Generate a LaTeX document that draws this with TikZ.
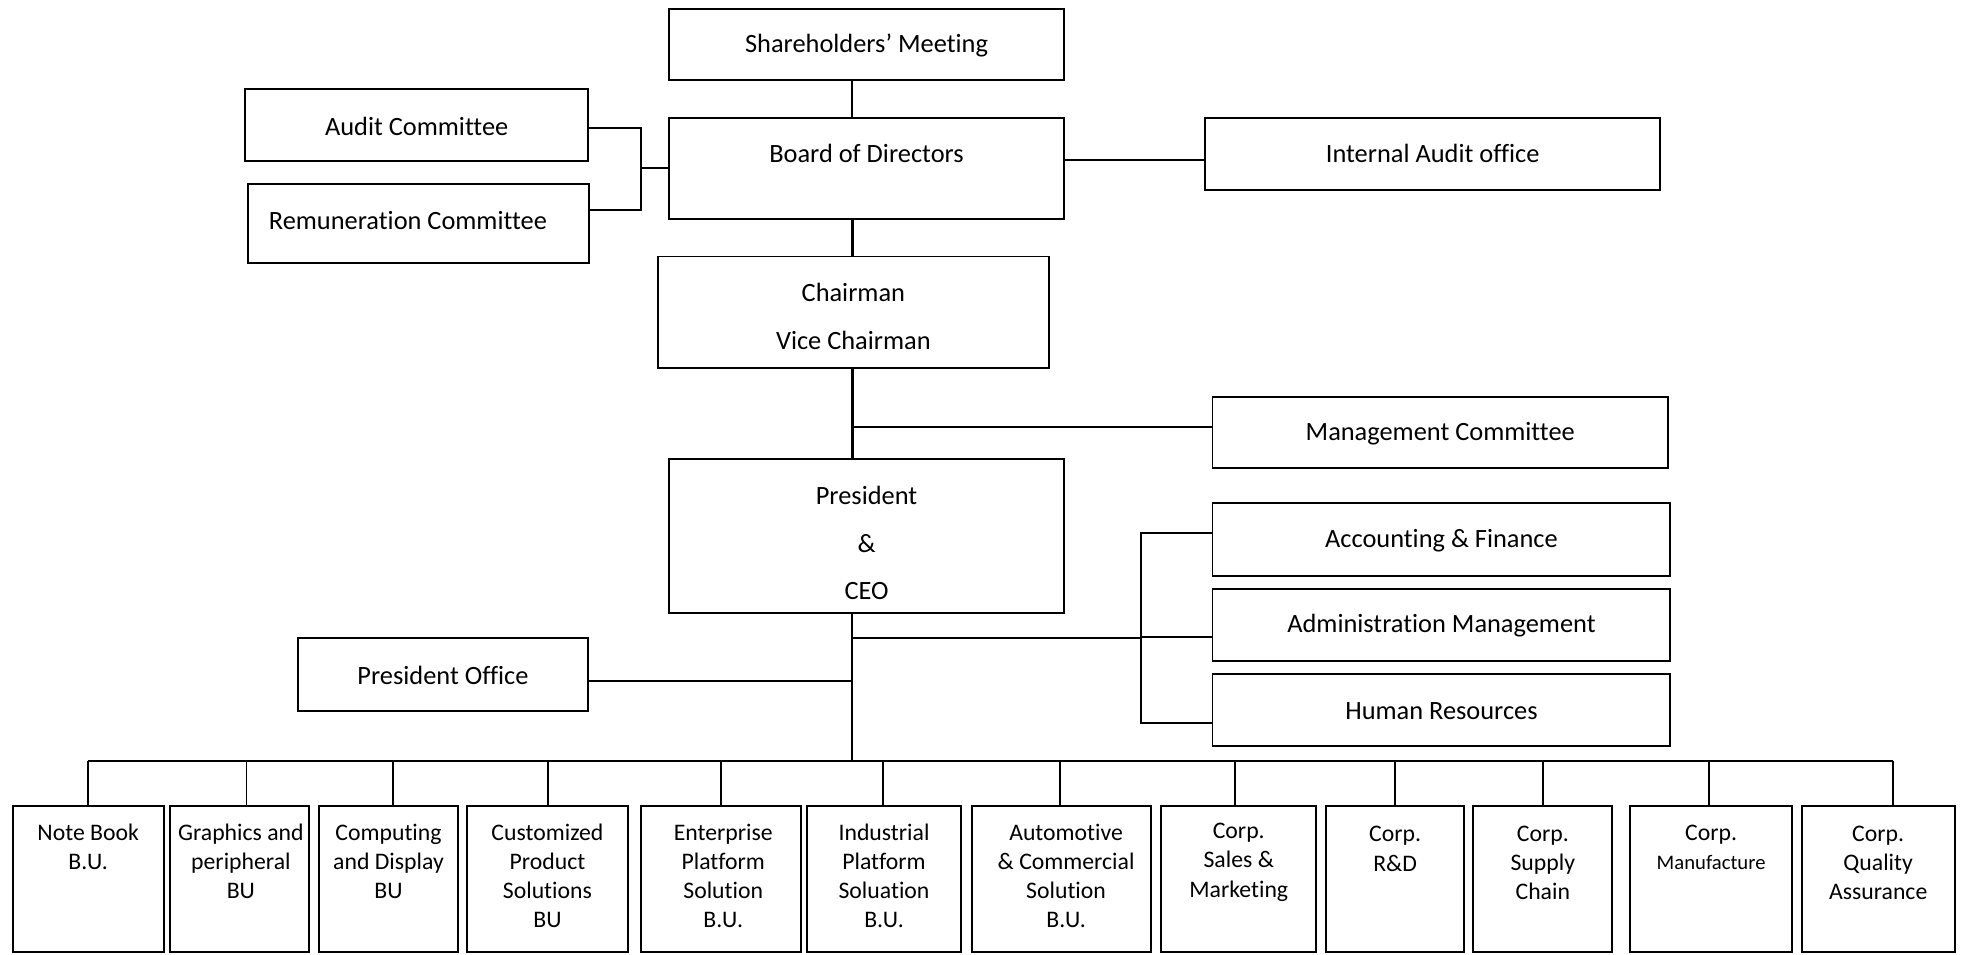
\documentclass[tikz,border=0pt]{standalone}
\usepackage{fontspec}
\setmainfont{Carlito}[Ligatures=NoCommon]
\usetikzlibrary{fit,calc}
\begin{document}
\begin{tikzpicture}[x=0.02cm, y=-0.02cm,
  bbox/.style={draw, line width=0.9pt, inner sep=0pt},
  txt/.style={font=\fontsize{12}{21.6}\selectfont, align=center, inner sep=0pt},
  btxt/.style={font=\fontsize{10.8}{13.3}\selectfont, align=center, inner sep=0pt},
  stxt/.style={font=\fontsize{9.4}{11}\selectfont, align=center, inner sep=0pt},
  con/.style={line width=0.8pt},
  thk/.style={line width=1.3pt}]
\useasboundingbox (0,0) rectangle (1568,763);

% upper boxes
\node[bbox, fit={(535,7)(850,64)}] (sh) {};
\node[txt] (sht) at (692.5,36) {Shareholders’ Meeting};
\node[bbox, fit={(535,94)(850,175)}] (bod) {};
\node[txt] (bodt) at (692.5,123) {Board of Directors};
\node[bbox, fit={(196,71)(470,129)}] (aud) {};
\node[txt] (audt) at (333,101) {Audit Committee};
\node[bbox, fit={(198,147)(471,210)}] (rem) {};
\node[txt] (remt) at (326,176) {Remuneration Committee};
\node[bbox, fit={(963,94)(1327,152)}] (ia) {};
\node[txt] (iat) at (1145,123) {Internal Audit office};
\node[bbox, fit={(526,205)(838,294)}] (ch) {};
\node[txt] (cht) at (682,253) {Chairman\\Vice Chairman};
\node[bbox, fit={(969,317)(1333,374)}] (mc) {};
\node[txt] (mct) at (1151,347) {Management Committee};
\node[bbox, fit={(535,367)(850,490)}] (pr) {};
\node[txt] (prt) at (692.5,434) {President\\\&\\CEO};
\node[bbox, fit={(969,402)(1335,460)}] (af) {};
\node[txt] (aft) at (1152,432) {Accounting \& Finance};
\node[bbox, fit={(969,471)(1335,528)}] (ad) {};
\node[txt] (adt) at (1152,500) {Administration Management};
\node[bbox, fit={(969,539)(1335,596)}] (hr) {};
\node[txt] (hrt) at (1152,568) {Human Resources};
\node[bbox, fit={(238,510)(470,568)}] (po) {};
\node[txt] (pot) at (354,540) {President Office};

% bottom boxes
\node[bbox, fit={(10,644)(131,761)}] (b1) {};
\node[btxt] (t1) at (70.5,676.5) {Note Book\\B.U.};
\node[bbox, fit={(136,644)(247,761)}] (b2) {};
\node[btxt] (t2) at (192.5,688.5) {Graphics and\\peripheral\\BU};
\node[bbox, fit={(255,644)(366,761)}] (b3) {};
\node[btxt] (t3) at (310.5,688.5) {Computing\\and Display\\BU};
\node[bbox, fit={(373,644)(502,761)}] (b4) {};
\node[btxt] (t4) at (437.5,700) {Customized\\Product\\Solutions\\BU};
\node[bbox, fit={(512,644)(640,761)}] (b5) {};
\node[btxt] (t5) at (578,700) {Enterprise\\Platform\\Solution\\B.U.};
\node[bbox, fit={(645,644)(768,761)}] (b6) {};
\node[btxt] (t6) at (706.5,700) {Industrial\\Platform\\Soluation\\B.U.};
\node[bbox, fit={(777,644)(920,761)}] (b7) {};
\node[btxt] (t7) at (852,700) {Automotive\\\& Commercial\\Solution\\B.U.};
\node[bbox, fit={(928,644)(1052,761)}] (b8) {};
\node[btxt] (t8) at (990,689) {Corp.\\Sales \&\\Marketing};
\node[bbox, fit={(1060,644)(1170,761)}] (b9) {};
\node[btxt] (t9) at (1115,678.5) {Corp.\\R\&D};
\node[bbox, fit={(1177,644)(1288,761)}] (b10) {};
\node[btxt] (t10) at (1233,689.5) {Corp.\\Supply\\Chain};
\node[bbox, fit={(1303,644)(1432,761)}] (b11) {};
\node[btxt] (t11a) at (1367.5,667) {Corp.};
\node[stxt] (t11b) at (1367.5,689) {Manufacture};
\node[bbox, fit={(1440,644)(1562,761)}] (b12) {};
\node[btxt] (t12) at (1501,689.5) {Corp.\\Quality\\Assurance};

% helper coordinates
\coordinate (sp) at (681,0);
\coordinate (kx) at (512,0);
\coordinate (jx) at (912,510);
\coordinate (audl) at ([yshift=-0.04cm]aud.east);
\coordinate (reml) at ([yshift=0.21cm]rem.east);
\coordinate (ial) at ([yshift=-0.1cm]ia.west);
\coordinate (pol) at ([yshift=-0.1cm]po.east);
\coordinate (mcl) at ([yshift=0.09cm]mc.west);
\coordinate (afl) at ([yshift=0.1cm]af.west);
\coordinate (adl) at ([yshift=-0.19cm]ad.west);
\coordinate (hrl) at ([yshift=-0.21cm]hr.west);
\coordinate (d1) at (70,608);
\coordinate (d2) at (197,608);
\coordinate (d3) at (314,608);
\coordinate (d4) at (438,608);
\coordinate (d5) at (576,608);
\coordinate (d6) at (706,608);
\coordinate (d7) at (847,608);
\coordinate (d8) at (987,608);
\coordinate (d9) at (1115,608);
\coordinate (d10) at (1233,608);
\coordinate (d11) at (1366,608);
\coordinate (d12) at (1513,608);

% connectors
\draw[con] (sh.south -| sp) -- (bod.north -| sp);
\draw[thk] (bod.south -| sp) -- (ch.north -| sp);
\draw[thk] (ch.south -| sp) -- (pr.north -| sp);
\draw[con] (mcl) -- (mcl -| sp);
\draw[con] (audl) -- (audl -| kx) -- (reml -| kx) -- (reml);
\draw[con] (bod.west) -- (bod.west -| kx);
\draw[con] (ial) -- (ial -| bod.east);
\draw[con] (pol) -- (pol -| sp);
\draw[con] (pr.south -| sp) -- (d1 -| sp);
\draw[con] (sp |- jx) -- (jx);
\draw[con] (afl) -- (afl -| jx) -- (hrl -| jx) -- (hrl);
\draw[con] (adl) -- (adl -| jx);
\draw[line width=0.9pt] (d1) -- (d12);
\foreach \i in {1,...,12} {
  \draw[line width=0.9pt] (d\i) -- (d\i |- b\i.north);
}
\end{tikzpicture}
\end{document}
